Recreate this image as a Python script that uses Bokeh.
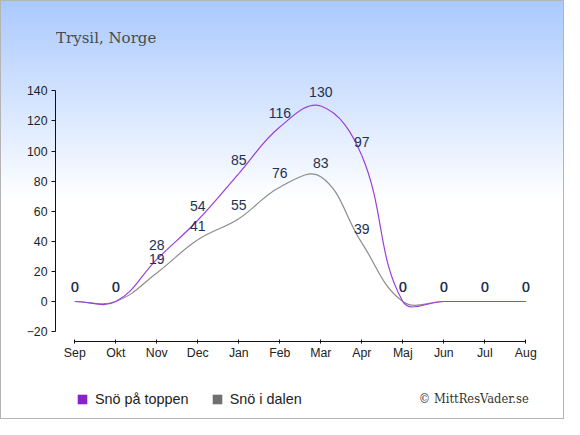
from bokeh.plotting import figure
from bokeh.models import Legend, LegendItem, FixedTicker, ColumnDataSource, Label
from bokeh.core.properties import value
from bokeh.embed import file_html
from bokeh.resources import INLINE

months = ["Sep", "Okt", "Nov", "Dec", "Jan", "Feb", "Mar", "Apr", "Maj", "Jun", "Jul", "Aug"]
snow_top = [0, 0, 28, 54, 85, 116, 130, 97, 0, 0, 0, 0]
snow_valley = [0, 0, 19, 41, 55, 76, 83, 39, 0, 0, 0, 0]
y_ticks = [-20, 0, 20, 40, 60, 80, 100, 120, 140]
title_text = "Trysil, Norge"
credit_text = "\u00a9 MittResVader.se"
name_top = "Sn\u00f6 p\u00e5 toppen"
name_valley = "Sn\u00f6 i dalen"

W, H = 564, 419
LEFT = 55
X0, X1 = -0.4707, 11.944
Y0, Y1 = -78.46, 200.1
AXIS_Y = -26.6
FW, FH = W - LEFT, H
PX = FW / (X1 - X0)
PY = FH / (Y1 - Y0)

def spline_segments(ys, t=0.4):
    n = len(ys)
    xs = list(range(n))
    pts = [(x * PX, y * PY) for x, y in zip(xs, ys)]
    prev_cp, next_cp = [], []
    for i in range(n):
        cur = pts[i]
        pv = pts[i - 1] if i > 0 else cur
        nx = pts[i + 1] if i < n - 1 else cur
        d01 = ((cur[0] - pv[0]) ** 2 + (cur[1] - pv[1]) ** 2) ** 0.5
        d12 = ((nx[0] - cur[0]) ** 2 + (nx[1] - cur[1]) ** 2) ** 0.5
        s = d01 + d12
        s01 = d01 / s if s else 0
        s12 = d12 / s if s else 0
        fa, fb = t * s01, t * s12
        prev_cp.append((cur[0] - fa * (nx[0] - pv[0]), cur[1] - fa * (nx[1] - pv[1])))
        next_cp.append((cur[0] + fb * (nx[0] - pv[0]), cur[1] + fb * (nx[1] - pv[1])))
    d = dict(x0=[], y0=[], x1=[], y1=[], cx0=[], cy0=[], cx1=[], cy1=[])
    for i in range(n - 1):
        d["x0"].append(xs[i]); d["y0"].append(ys[i])
        d["x1"].append(xs[i + 1]); d["y1"].append(ys[i + 1])
        d["cx0"].append(next_cp[i][0] / PX); d["cy0"].append(next_cp[i][1] / PY)
        d["cx1"].append(prev_cp[i + 1][0] / PX); d["cy1"].append(prev_cp[i + 1][1] / PY)
    return d

p = figure(width=W, height=H, output_backend="svg", toolbar_location=None,
           x_range=(X0, X1), y_range=(Y0, Y1), x_axis_location="above",
           min_border_left=LEFT, min_border_right=0,
           min_border_top=0, min_border_bottom=0)
p.styles = {"background-image": "linear-gradient(to bottom, #a9c9fe 0px, #ffffff 200px)",
            "outline": "1px solid #b4b4b4", "outline-offset": "-1px"}
p.background_fill_color = None
p.border_fill_color = None
p.outline_line_color = None
p.grid.visible = False

p.xaxis.ticker = FixedTicker(ticks=list(range(len(months))))
p.xaxis.major_label_overrides = {i: m for i, m in enumerate(months)}
p.xaxis.bounds = (0, len(months) - 1)
p.xaxis.fixed_location = AXIS_Y
p.yaxis.ticker = FixedTicker(ticks=y_ticks)
p.yaxis.bounds = (y_ticks[0], y_ticks[-1])
for ax in (p.xaxis, p.yaxis):
    ax.minor_tick_line_color = None
    ax.axis_line_color = "#111111"
    ax.major_tick_line_color = "#111111"
    ax.major_label_text_font = "Liberation Sans"
    ax.major_label_text_font_size = "12.3px"
    ax.major_label_text_color = "#222222"
p.xaxis.major_tick_in = 2
p.xaxis.major_tick_out = 2
p.xaxis.major_label_standoff = -21
p.yaxis.major_tick_in = 0
p.yaxis.major_tick_out = 4
p.yaxis.major_label_standoff = 4

purple = "#9b3fdb"
gray = "#8c8c8c"

p.bezier(source=ColumnDataSource(spline_segments(snow_valley)), x0="x0", y0="y0", x1="x1", y1="y1",
         cx0="cx0", cy0="cy0", cx1="cx1", cy1="cy1", line_color=gray, line_width=1.2)
p.bezier(source=ColumnDataSource(spline_segments(snow_top)), x0="x0", y0="y0", x1="x1", y1="y1",
         cx0="cx0", cy0="cy0", cx1="cx1", cy1="cy1", line_color=purple, line_width=1.2)

for ys in (snow_valley, snow_top):
    src = ColumnDataSource(dict(x=list(range(len(months))), y=ys, t=[str(v) for v in ys]))
    p.text(x="x", y="y", text="t", source=src, text_align="center", text_baseline="middle",
           y_offset=-14, text_font=value("Liberation Sans"), text_font_size="14px",
           text_color="#1e3152")

# zero-size rects at the data points: invisible in the plot, used only as legend swatches
xs = list(range(len(months)))
r1 = p.rect(x=xs, y=snow_top, width=0, height=0, fill_color="#8a22cc", line_color=None)
r2 = p.rect(x=xs, y=snow_valley, width=0, height=0, fill_color="#707070", line_color=None)

legend = Legend(items=[LegendItem(label=name_top, renderers=[r1]),
                       LegendItem(label=name_valley, renderers=[r2])],
                orientation="horizontal", location=(21, 10), padding=0, margin=0,
                spacing=22, glyph_width=12, glyph_height=12, label_standoff=7,
                label_height=20,
                label_text_font="Liberation Sans", label_text_font_size="14.4px",
                label_text_color="#222222", border_line_color=None,
                background_fill_alpha=0)
p.add_layout(legend, "center")

p.add_layout(Label(x=-0.4585, y=174.9, text=title_text,
                   text_font="DejaVu Serif", text_font_size="15px", text_color="#4a4a4a",
                   text_baseline="alphabetic"))
p.add_layout(Label(x=8.39, y=-64.5, text=credit_text,
                   text_font="DejaVu Serif Condensed", text_font_size="12.8px", text_color="#333333",
                   text_baseline="middle"))

open("out.html", "w").write(file_html(p, INLINE))
